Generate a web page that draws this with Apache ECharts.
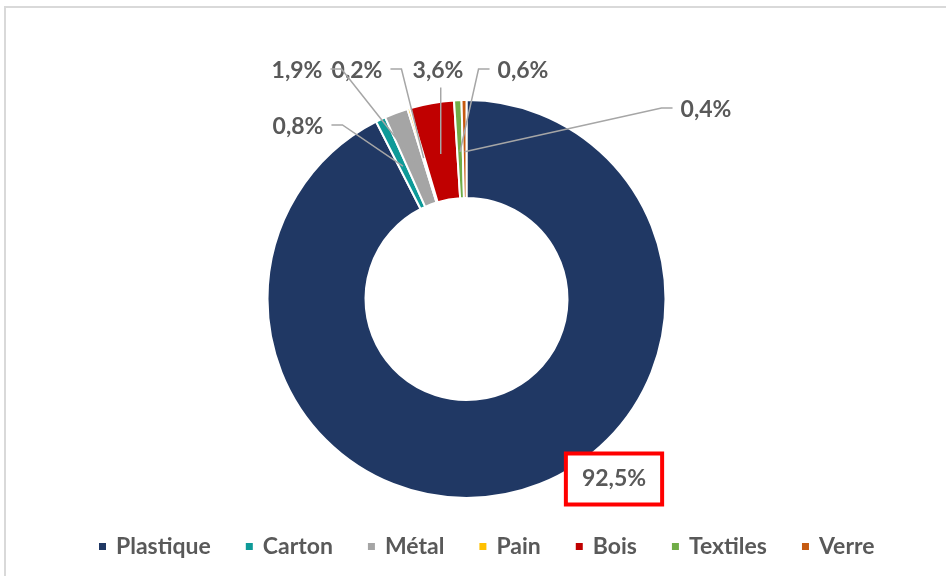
<!DOCTYPE html>
<html>
<head>
<meta charset="utf-8">
<script src="https://cdn.jsdelivr.net/npm/echarts@6/dist/echarts.min.js"></script>
<style>
  html, body { margin: 0; padding: 0; background: #fff; }
  #chart { width: 946px; height: 576px; }
</style>
</head>
<body>
<div id="chart"></div>
<script>
// Waste composition by material (share of total, %)
const categories = ['Plastique', 'Carton', 'Métal', 'Pain', 'Bois', 'Textiles', 'Verre'];
const shares = [92.5, 0.8, 1.9, 0.2, 3.6, 0.6, 0.4];
const colors = ['#203864', '#0E9A98', '#A5A5A5', '#FFC000', '#C00000', '#70AD47', '#C55A11'];

// Ring geometry
const CX = 466.5, CY = 299, R_IN = 101, R_OUT = 199;
const FONT = 'Lato';
const LABEL_SIZE = 23;
const TEXT = '#595959';
const LEADER = '#A6A6A6';

// Where each value label sits, and from which side its leader line leaves
const labelSpots = [
  { x: 614, y: 479, side: null },
  { x: 298, y: 127, side: 'right' },
  { x: 297, y: 71, side: 'right' },
  { x: 357, y: 71, side: 'right' },
  { x: 438, y: 71, side: 'bottom' },
  { x: 523, y: 71, side: 'left' },
  { x: 706, y: 110, side: 'left' }
];

const total = shares.reduce((a, b) => a + b, 0);
// Point inside a slice, on its middle angle, where the leader line ends
function slicePoint(i) {
  let cum = 0;
  for (let k = 0; k < i; k++) cum += shares[k];
  const theta = 2 * Math.PI * (cum + shares[i] / 2) / total;
  const r = R_OUT * 0.74;
  return [CX + r * Math.sin(theta), CY - r * Math.cos(theta)];
}

const fmt = v => v.toFixed(1).replace('.', ',') + '%';

const measureCtx = document.createElement('canvas').getContext('2d');
measureCtx.font = `bold ${LABEL_SIZE}px ${FONT}`;
const textWidth = s => measureCtx.measureText(s).width;

// Leader lines: short elbow beside the label, then straight into the slice
const leaders = [];
shares.forEach((v, i) => {
  const s = labelSpots[i];
  if (!s.side) return;
  const hw = textWidth(fmt(v)) / 2;
  const end = slicePoint(i);
  const ly = s.y - 2;
  let pts;
  if (s.side === 'right') pts = [[s.x + hw + 8, ly], [s.x + hw + 19, ly], end];
  else if (s.side === 'left') pts = [[s.x - hw - 8, ly], [s.x - hw - 19, ly], end];
  else pts = [[end[0], s.y + LABEL_SIZE / 2 + 5], end];
  leaders.push({
    type: 'polyline', silent: true, z: 100,
    shape: { points: pts },
    style: { stroke: LEADER, lineWidth: 1.5, fill: null }
  });
});

const chart = echarts.init(document.getElementById('chart'), null, { renderer: 'canvas' });

const data = categories.map((name, i) => {
  const item = { name, value: shares[i], itemStyle: { color: colors[i] } };
  if (i === 0) {
    item.label = {
      borderColor: '#FF0000', borderWidth: 4, backgroundColor: '#fff',
      padding: [13, 14, 11, 14]
    };
  }
  return item;
});

chart.setOption({
  animation: false,
  backgroundColor: '#fff',
  graphic: [{
    type: 'rect', silent: true, z: -10,
    shape: { x: 5, y: 7, width: 1000, height: 700 },
    style: { fill: 'none', stroke: '#D9D9D9', lineWidth: 2 }
  }].concat(leaders),
  legend: {
    data: categories,
    left: 97, top: 535, padding: 0,
    icon: 'rect', itemWidth: 9, itemHeight: 9, itemGap: 33,
    textStyle: { fontFamily: FONT, fontSize: 23, fontWeight: 'bold', color: TEXT, padding: [0, 0, 0, 4] }
  },
  series: [{
    type: 'pie',
    center: [CX, CY],
    radius: [R_IN, R_OUT],
    startAngle: 90,
    clockwise: true,
    avoidLabelOverlap: false,
    itemStyle: { borderColor: '#fff', borderWidth: 2 },
    emphasis: { disabled: true },
    label: {
      show: true, position: 'outside',
      formatter: p => fmt(p.value),
      fontFamily: FONT, fontSize: LABEL_SIZE, fontWeight: 'bold', color: TEXT
    },
    labelLine: { show: false },
    labelLayout: params => {
      const s = labelSpots[params.dataIndex];
      return { x: s.x, y: s.y, align: 'center', verticalAlign: 'middle' };
    },
    data
  }]
});
</script>
</body>
</html>
